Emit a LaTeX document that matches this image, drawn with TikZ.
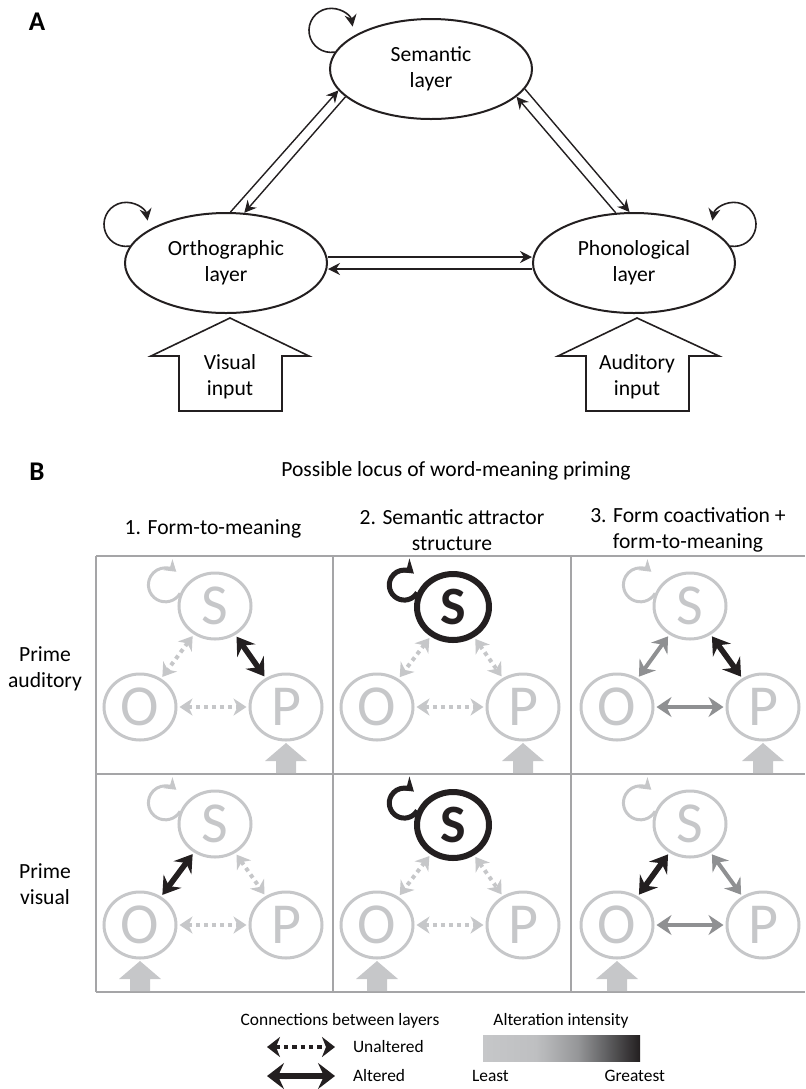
\documentclass[tikz,border=0pt]{standalone}
\usepackage{fontspec}
\setmainfont{Carlito}
\usetikzlibrary{arrows.meta,shapes.geometric}

\definecolor{lightg}{RGB}{198,199,201}
\definecolor{midg}{RGB}{143,144,146}
\definecolor{darkg}{RGB}{35,31,32}
\definecolor{gridg}{RGB}{165,165,167}
\definecolor{gradA}{RGB}{190,191,193}
\definecolor{gradB}{RGB}{150,151,153}
\definecolor{gradC}{RGB}{92,92,94}

\pgfdeclarehorizontalshading{intensity}{100bp}{color(0bp)=(lightg); color(25bp)=(lightg);
  color(42bp)=(gradA); color(55bp)=(gradB); color(65bp)=(gradC); color(75bp)=(darkg); color(100bp)=(darkg)}

\tikzset{
  txt/.style={font=\fontsize{10.8}{13}\selectfont, align=center},
  legtxt/.style={font=\fontsize{8.7}{10}\selectfont},
  panel/.style={font=\bfseries\fontsize{13.5}{15}\selectfont},
  layer/.style={ellipse, draw=darkg, line width=1pt, minimum width=101pt, minimum height=50pt, inner sep=0pt, txt},
  pa/.style={draw=darkg, line width=0.7pt, -{Stealth[length=6pt,width=6pt,inset=2pt]}},
  selfloop/.style={draw=darkg, line width=0.8pt, -{Stealth[length=6pt,width=6pt,inset=2pt]}},
  unit/.style={ellipse, draw=lightg, text=lightg, line width=1.5pt, minimum width=36pt, minimum height=33pt, inner sep=0pt, font=\fontsize{29}{29}\selectfont},
  darkunit/.style={unit, draw=darkg, text=darkg, line width=3pt, font=\bfseries\fontsize{27}{27}\selectfont},
  unalt/.style={draw=lightg, line width=2pt, dash pattern=on 2pt off 2pt, shorten <=1pt, shorten >=1pt,
    {Stealth[length=6.5pt,width=8.5pt,inset=2pt]}-{Stealth[length=6.5pt,width=8.5pt,inset=2pt]}},
  midalt/.style={draw=midg, line width=2pt, shorten <=1pt, shorten >=1pt,
    {Stealth[length=7.5pt,width=10pt,inset=2.5pt]}-{Stealth[length=7.5pt,width=10pt,inset=2.5pt]}},
  alt/.style={draw=darkg, line width=2.8pt, shorten <=1pt, shorten >=1pt,
    {Stealth[length=8.5pt,width=11pt,inset=3pt]}-{Stealth[length=8.5pt,width=11pt,inset=3pt]}},
  lloop/.style={draw=lightg, line width=1.5pt, -{Stealth[length=5.5pt,width=7pt,inset=1.5pt]}},
  dloop/.style={draw=darkg, line width=2.5pt, -{Stealth[length=6.5pt,width=8.5pt,inset=2pt]}},
  grid/.style={draw=gridg, line width=0.8pt},
}

\begin{document}
\begin{tikzpicture}[x=0.5pt, y=-0.5pt]
  \useasboundingbox (0,0) rectangle (805,1089);

  % Panel A: the three layers
  \node[panel] (lblA) at (37,22) {A};
  \node[layer] (sem) at (431,69) {Semantic\\layer};
  \node[layer] (orth) at (226,263) {Orthographic\\layer};
  \node[layer] (phon) at (634,263) {Phonological\\layer};

  % self connections
  \draw[selfloop] (sem.170) arc[start angle=-80, end angle=-350, radius=11pt];
  \draw[selfloop] (orth.170) arc[start angle=-80, end angle=-350, radius=11pt];
  \draw[selfloop] (phon.10) arc[start angle=260, end angle=530, radius=11pt];

  % connections between layers
  \draw[pa] (orth.85) -- (sem.193);
  \draw[pa] (sem.198) -- (orth.70);
  \draw[pa] (sem.-12) -- (phon.95);
  \draw[pa] (phon.110) -- (sem.-18);
  \draw[pa] ([yshift=3pt]orth.east) -- ([yshift=3pt]phon.west);
  \draw[pa] ([yshift=-3pt]phon.west) -- ([yshift=-3pt]orth.east);

  % inputs
  \draw[darkg, line width=0.8pt] (151,356) -- (230,318) -- (309,356) -- (282,356) -- (282,411) -- (179,411) -- (179,356) -- cycle;
  \node[txt] (vis) at (230,377) {Visual\\input};
  \draw[darkg, line width=0.8pt] (558,356) -- (637,318) -- (719,356) -- (689,356) -- (689,411) -- (586,411) -- (586,356) -- cycle;
  \node[txt] (aud) at (637,377) {Auditory\\input};

  % Panel B: titles
  \node[panel] (lblB) at (37,472) {B};
  \node[txt] (title) at (456,471) {Possible locus of word-meaning priming};
  \node[txt] (col1) at (213,529) {1. Form-to-meaning};
  \node[txt] (col2) at (452,530) {2. Semantic attractor\\structure};
  \node[txt] (col3) at (688,530) {3. Form coactivation +\\form-to-meaning};
  \node[txt] (row1) at (45,669) {Prime\\auditory};
  \node[txt] (row2) at (45,884) {Prime\\visual};

  % grid
  \draw[grid] (96,556) -- (805,556);
  \draw[grid] (96,774) -- (805,774);
  \draw[grid] (96,992) -- (805,992);
  \draw[grid] (96,556) -- (96,992);
  \draw[grid] (333,556) -- (333,992);
  \draw[grid] (571,556) -- (571,992);

  % 1. form-to-meaning, prime auditory
  \begin{scope}[shift={(96,556)}]
    \node[unit] (s1a) at (119,50) {S};
    \node[unit] (o1a) at (44,151) {O};
    \node[unit] (p1a) at (190,151) {P};
    \draw[lloop] (s1a.160) arc[start angle=-30, end angle=-310, radius=8.5pt];
    \draw[unalt] (s1a) -- (o1a);
    \draw[alt] (s1a) -- (p1a);
    \draw[unalt] (o1a) -- (p1a);
    \fill[lightg] (169,205) -- (190,187) -- (211,205) -- (200,205) -- (200,217) -- (180,217) -- (180,205) -- cycle;
  \end{scope}

  % 1. form-to-meaning, prime visual
  \begin{scope}[shift={(96,774)}]
    \node[unit] (s1b) at (119,50) {S};
    \node[unit] (o1b) at (44,151) {O};
    \node[unit] (p1b) at (190,151) {P};
    \draw[lloop] (s1b.160) arc[start angle=-30, end angle=-310, radius=8.5pt];
    \draw[alt] (s1b) -- (o1b);
    \draw[unalt] (s1b) -- (p1b);
    \draw[unalt] (o1b) -- (p1b);
    \fill[lightg] (23,205) -- (44,187) -- (65,205) -- (54,205) -- (54,217) -- (34,217) -- (34,205) -- cycle;
  \end{scope}

  % 2. semantic attractor, prime auditory
  \begin{scope}[shift={(333,556)}]
    \node[darkunit] (s2a) at (120,51) {S};
    \node[unit] (o2a) at (44,151) {O};
    \node[unit] (p2a) at (190,151) {P};
    \draw[dloop] (s2a.158) arc[start angle=-30, end angle=-310, radius=7.5pt];
    \draw[unalt] (s2a) -- (o2a);
    \draw[unalt] (s2a) -- (p2a);
    \draw[unalt] (o2a) -- (p2a);
    \fill[lightg] (169,205) -- (190,187) -- (211,205) -- (200,205) -- (200,217) -- (180,217) -- (180,205) -- cycle;
  \end{scope}

  % 2. semantic attractor, prime visual
  \begin{scope}[shift={(333,774)}]
    \node[darkunit] (s2b) at (120,51) {S};
    \node[unit] (o2b) at (44,151) {O};
    \node[unit] (p2b) at (190,151) {P};
    \draw[dloop] (s2b.158) arc[start angle=-30, end angle=-310, radius=7.5pt];
    \draw[unalt] (s2b) -- (o2b);
    \draw[unalt] (s2b) -- (p2b);
    \draw[unalt] (o2b) -- (p2b);
    \fill[lightg] (23,205) -- (44,187) -- (65,205) -- (54,205) -- (54,217) -- (34,217) -- (34,205) -- cycle;
  \end{scope}

  % 3. form coactivation, prime auditory
  \begin{scope}[shift={(571,556)}]
    \node[unit] (s3a) at (119,50) {S};
    \node[unit] (o3a) at (46,151) {O};
    \node[unit] (p3a) at (192,151) {P};
    \draw[lloop] (s3a.160) arc[start angle=-30, end angle=-310, radius=8.5pt];
    \draw[midalt] (s3a) -- (o3a);
    \draw[alt] (s3a) -- (p3a);
    \draw[midalt] (o3a) -- (p3a);
    \fill[lightg] (171,205) -- (192,187) -- (213,205) -- (202,205) -- (202,217) -- (182,217) -- (182,205) -- cycle;
  \end{scope}

  % 3. form coactivation, prime visual
  \begin{scope}[shift={(571,774)}]
    \node[unit] (s3b) at (119,50) {S};
    \node[unit] (o3b) at (46,151) {O};
    \node[unit] (p3b) at (192,151) {P};
    \draw[lloop] (s3b.160) arc[start angle=-30, end angle=-310, radius=8.5pt];
    \draw[alt] (s3b) -- (o3b);
    \draw[midalt] (s3b) -- (p3b);
    \draw[midalt] (o3b) -- (p3b);
    \fill[lightg] (25,205) -- (46,187) -- (67,205) -- (56,205) -- (56,217) -- (36,217) -- (36,205) -- cycle;
  \end{scope}

  % Legend
  \node[legtxt] (conn) at (340,1021) {Connections between layers};
  \coordinate (u1) at (267,1047);
  \coordinate (u2) at (335,1047);
  \draw[draw=darkg, line width=2pt, dash pattern=on 2.2pt off 2pt,
    {Stealth[length=6.5pt,width=10pt,inset=2pt]}-{Stealth[length=6.5pt,width=10pt,inset=2pt]}] (u1) -- (u2);
  \node[legtxt, anchor=west] (unaltered) at (346,1047) {Unaltered};
  \coordinate (a1) at (267,1076);
  \coordinate (a2) at (335,1076);
  \draw[draw=darkg, line width=3pt,
    {Stealth[length=8.5pt,width=13pt,inset=3pt]}-{Stealth[length=8.5pt,width=13pt,inset=3pt]}] (a1) -- (a2);
  \node[legtxt, anchor=west] (altered) at (346,1076) {Altered};

  \node[legtxt] (intens) at (561,1021) {Alteration intensity};
  \shade[shading=intensity] (483,1035) rectangle (640,1061);
  \node[legtxt, anchor=west] (least) at (465,1076) {Least};
  \node[legtxt, anchor=east] (greatest) at (672,1076) {Greatest};

\end{tikzpicture}
\end{document}
